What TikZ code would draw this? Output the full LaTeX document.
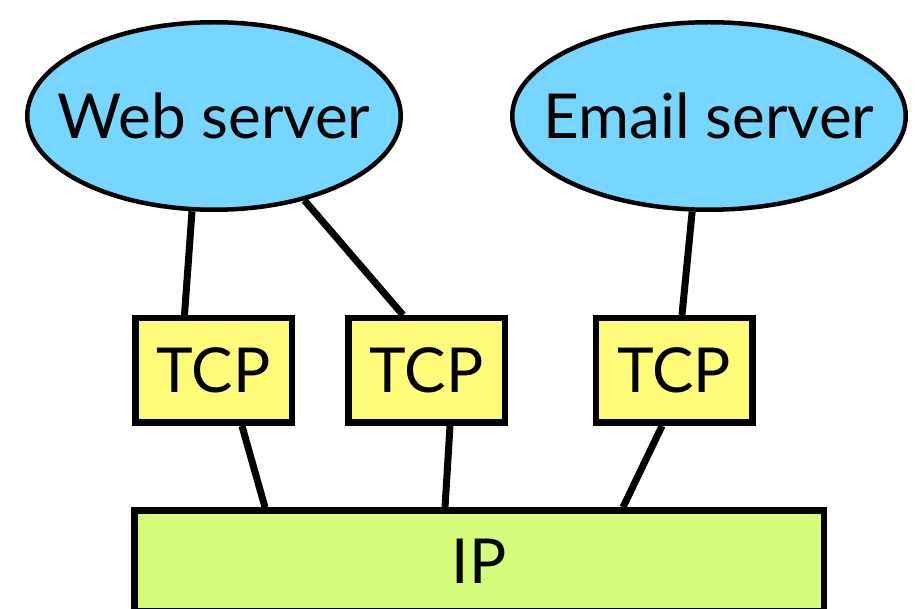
\documentclass[tikz,border=0pt]{standalone}
\usepackage{fontspec}
\setmainfont{Lato}
\usepackage{tikz}
\usetikzlibrary{shapes.geometric}
\definecolor{sky}{HTML}{76D6FF}
\definecolor{banana}{HTML}{FFFC79}
\definecolor{honeydew}{HTML}{D4FB79}

\begin{document}
\begin{tikzpicture}[x=1pt, y=-1pt, font=\fontsize{62}{70}\selectfont,
  server/.style={ellipse, draw, fill=sky, line width=4.5pt, minimum height=187.5pt, inner sep=0pt},
  tcpbox/.style={rectangle, draw, fill=banana, line width=6.5pt, minimum width=156.5pt, minimum height=104.5pt, inner sep=0pt},
  ipbox/.style={rectangle, draw, fill=honeydew, line width=6.5pt, minimum width=689.5pt, minimum height=101pt, inner sep=0pt},
  wire/.style={line width=7pt}]
\useasboundingbox (0,0) rectangle (916,609);
\node [server, minimum width=373.5pt, label={center:Web server}] (web) at (214,116) {}; \node [server, minimum width=393.5pt, label={center:Email server}] (email) at (709,116) {};
\node [tcpbox] (tcpa) at (213.5,370.5) {TCP}; \node [tcpbox] (tcpb) at (426.5,370.5) {TCP}; \node [tcpbox] (tcpc) at (674,370.5) {TCP};
\node [ipbox] (ip) at (479,561) {IP};

\draw [wire] (web.-103) -- ([xshift=-29pt]tcpa.north); \draw [wire] (web.-43) -- ([xshift=-23.5pt]tcpb.north); \draw [wire] (email.-100) -- ([xshift=8pt]tcpc.north);
\draw [wire] ([xshift=28.5pt]tcpa.south) -- ([xshift=-214pt]ip.north); \draw [wire] ([xshift=23.5pt]tcpb.south) -- ([xshift=-34pt]ip.north); \draw [wire] ([xshift=-12pt]tcpc.south) -- ([xshift=144pt]ip.north);
\end{tikzpicture}
\end{document}
